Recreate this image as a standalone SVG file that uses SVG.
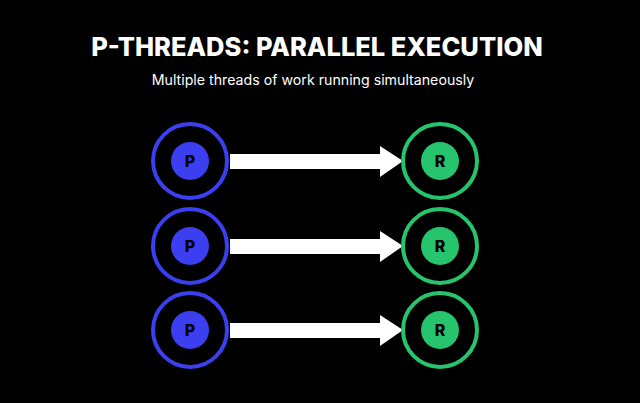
<svg xmlns="http://www.w3.org/2000/svg" width="640" height="403" viewBox="0 0 640 403">
<style>
.t{font-family:"Inter","Liberation Sans",sans-serif;fill:#fff}
.po{fill:none;stroke:#3b3ff0;stroke-width:4}
.pi{fill:#3b3ff0}
.ro{fill:none;stroke:#27c46e;stroke-width:4}
.ri{fill:#27c46e}
.l{font-family:"Inter","Liberation Sans",sans-serif;font-weight:800;font-size:16px;fill:#000;text-anchor:middle}
</style>
<defs>
<g id="arr"><polygon points="230,154 380,154 380,146 403,161 380,177 380,169 230,169" fill="#fff"/></g>
</defs>
<rect width="640" height="403" fill="#000"/>
<text class="t" x="317" y="56" text-anchor="middle" font-size="25.5" font-weight="800">P-THREADS: PARALLEL EXECUTION</text>
<text class="t" x="313" y="85" text-anchor="middle" font-size="14.2">Multiple threads of work running simultaneously</text>
<g id="connectors">
<use href="#arr"/>
<use href="#arr" y="85"/>
<use href="#arr" y="169"/>
</g>
<g id="p1"><circle class="po" cx="190" cy="161" r="37"/><circle class="pi" cx="190" cy="161" r="19"/><text class="l" x="190" y="167">P</text></g>
<g id="p2"><circle class="po" cx="190" cy="246" r="37"/><circle class="pi" cx="190" cy="246" r="19"/><text class="l" x="190" y="252">P</text></g>
<g id="p3"><circle class="po" cx="190" cy="330" r="37"/><circle class="pi" cx="190" cy="330" r="19"/><text class="l" x="190" y="336">P</text></g>
<g id="r1"><circle class="ro" cx="440" cy="161" r="37"/><circle class="ri" cx="440" cy="161" r="19"/><text class="l" x="440" y="167">R</text></g>
<g id="r2"><circle class="ro" cx="440" cy="246" r="37"/><circle class="ri" cx="440" cy="246" r="19"/><text class="l" x="440" y="252">R</text></g>
<g id="r3"><circle class="ro" cx="440" cy="330" r="37"/><circle class="ri" cx="440" cy="330" r="19"/><text class="l" x="440" y="336">R</text></g>
</svg>
